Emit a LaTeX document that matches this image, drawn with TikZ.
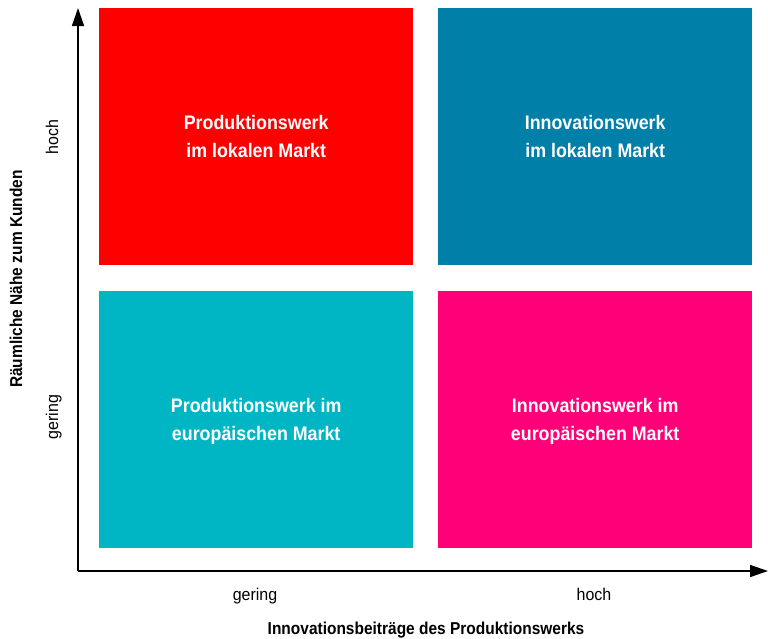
\documentclass[tikz,border=0pt]{standalone}
\usepackage{fontspec}
\setmainfont[FakeStretch=0.9]{Liberation Sans}
\newfontfamily\tickfont[FakeStretch=0.94]{Liberation Sans}
\newfontfamily\boxfont[FakeStretch=0.91]{Liberation Sans}
\usetikzlibrary{arrows.meta}
\definecolor{cRed}{RGB}{255,0,0}
\definecolor{cBlue}{RGB}{0,128,168}
\definecolor{cCyan}{RGB}{0,182,196}
\definecolor{cMag}{RGB}{255,0,120}
\tikzset{
  quad/.style={fill=#1, draw=none, anchor=north west, minimum width=314pt, minimum height=257pt, inner sep=0pt,
    text depth=0pt, text=white, align=center, font=\boxfont\fontsize{19.6}{28}\selectfont\bfseries},
  axis/.style={line width=1.5pt, -{Triangle[length=18pt,width=12pt]}},
  tick/.style={font=\tickfont\fontsize{17}{19}\selectfont, anchor=base, inner sep=0pt},
  axtitle/.style={font=\fontsize{17.2}{19}\selectfont\bfseries, anchor=base, inner sep=0pt}
}
\begin{document}
\begin{tikzpicture}[x=1pt,y=-1pt]
\useasboundingbox (0,0) rectangle (768,638);
\node[quad=cRed] (q1) at (99,8) {Produktionswerk\\im lokalen Markt};
\node[quad=cBlue] (q2) at (438,8) {Innovationswerk\\im lokalen Markt};
\node[quad=cCyan] (q3) at (99,291) {Produktionswerk im\\europäischen Markt};
\node[quad=cMag] (q4) at (438,291) {Innovationswerk im\\europäischen Markt};
\coordinate (o) at (78,571);
\coordinate (ytop) at (78,8);
\coordinate (xend) at (768,571);
\draw[axis] (o) -- (ytop);
\draw[axis] (o) -- (xend);
\node[tick] (xg) at (255,600) {gering};
\node[tick] (xh) at (594,600) {hoch};
\node[axtitle] (xt) at (426,634) {Innovationsbeiträge des Produktionswerks};
\node[tick, rotate=90] (yh) at (58,137) {hoch};
\node[tick, rotate=90] (yg) at (58,417) {gering};
\node[axtitle, rotate=90] (yt) at (22,279) {Räumliche Nähe zum Kunden};
\end{tikzpicture}
\end{document}
